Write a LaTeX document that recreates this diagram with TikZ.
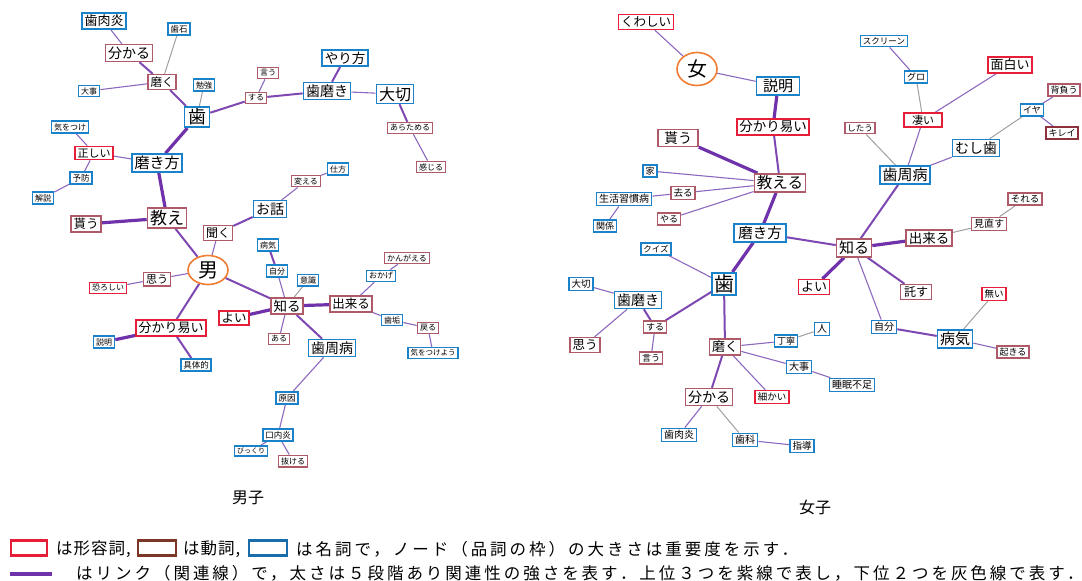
\documentclass[tikz,border=0pt]{standalone}
\usepackage{fontspec}
\setmainfont{Noto Sans CJK JP}
\newfontfamily\jpfont{Noto Sans CJK JP}
\usetikzlibrary{shapes.geometric,backgrounds}
\newcommand\jp[1]{\jpfont\fontsize{#1}{#1}\selectfont}
\definecolor{adjc}{RGB}{230,30,55}
\definecolor{verbc}{RGB}{175,90,105}
\definecolor{verbd}{RGB}{140,50,60}
\definecolor{nounc}{RGB}{25,130,200}
\definecolor{hubc}{RGB}{240,125,50}
\definecolor{pur}{RGB}{112,50,170}
\definecolor{purl}{RGB}{140,105,190}
\definecolor{legv}{RGB}{125,55,40}
\definecolor{legn}{RGB}{25,110,170}
\begin{document}
\begin{tikzpicture}[x=1pt,y=-1pt,
  wbox/.style={draw, fill=white, line width=1.6pt, inner xsep=2.5pt, inner ysep=2pt},
  adj/.style={wbox, draw=adjc},
  verb/.style={wbox, draw=verbc},
  noun/.style={wbox, draw=nounc},
  hub/.style={ellipse, draw=hubc, line width=1.6pt, fill=white, inner sep=0pt, minimum width=40pt, minimum height=29pt, font=\jp{20}},
  ea/.style={draw=purl, line width=1.1pt},
  eb/.style={draw=pur!90, line width=2pt},
  ec/.style={draw=pur, line width=3.2pt},
  eg/.style={draw=gray!75, line width=1pt},
  legtext/.style={anchor=west, inner sep=0pt, font=\jp{16.5}}]
\useasboundingbox (0,0) rectangle (1082,581);

% ---------------- male ----------------
\node[noun,font=\jp{13}] (m-shinikuen) at (104,21) {歯肉炎};
\node[noun,font=\jp{8.5}] (m-shiseki) at (179,29) {歯石};
\node[verb,font=\jp{14}] (m-wakaru) at (129,53) {分かる};
\node[verb,font=\jp{11.5}] (m-migaku) at (162,82) {磨く};
\node[noun,font=\jp{8}] (m-daiji) at (89,91) {大事};
\node[noun,font=\jp{8}] (m-benkyo) at (204,85) {勉強};
\node[noun,font=\jp{18},inner xsep=3.5pt] (m-ha) at (197,117) {歯};
\node[verb,font=\jp{8}] (m-iu) at (268,73) {言う};
\node[verb,font=\jp{8}] (m-suru) at (256,98) {する};
\node[noun,font=\jp{14}] (m-hamigaki) at (327,91) {歯磨き};
\node[noun,font=\jp{13.5}] (m-yarikata) at (345,58) {やり方};
\node[noun,font=\jp{16}] (m-taisetsu) at (395,94) {大切};
\node[verb,font=\jp{8}] (m-aratameru) at (410,128) {あらためる};
\node[verb,font=\jp{8}] (m-kanjiru) at (431,167) {感じる};
\node[noun,font=\jp{8}] (m-shikata) at (338,169) {仕方};
\node[verb,font=\jp{8}] (m-kaeru) at (306,181) {変える};
\node[noun,font=\jp{14}] (m-ohanashi) at (270,209) {お話};
\node[verb,font=\jp{12}] (m-kiku) at (218,233) {聞く};
\node[hub] (m-otoko) at (208,270) {男};
\node[noun,font=\jp{8}] (m-byoki) at (268,245) {病気};
\node[noun,font=\jp{8}] (m-jibun) at (277,271) {自分};
\node[noun,font=\jp{8}] (m-ishiki) at (308,280) {意識};
\node[verb,font=\jp{8}] (m-kangaeru) at (407,258) {かんがえる};
\node[noun,font=\jp{8}] (m-okage) at (381,276) {おかげ};
\node[verb,font=\jp{13.5}] (m-shiru) at (287,306) {知る};
\node[verb,font=\jp{12.5}] (m-dekiru) at (351,304) {出来る};
\node[adj,font=\jp{12.5}] (m-yoi) at (234,318) {よい};
\node[verb,font=\jp{8}] (m-aru) at (279,339) {ある};
\node[noun,font=\jp{14}] (m-shishubyo) at (332,348) {歯周病};
\node[noun,font=\jp{8}] (m-shiko) at (392,320) {歯垢};
\node[verb,font=\jp{8}] (m-modoru) at (428,328) {戻る};
\node[noun,font=\jp{7.5}] (m-kiwotsukeyo) at (433,353) {気をつけよう};
\node[adj,font=\jp{13}] (m-wakariyasui) at (171,328) {分かり易い};
\node[noun,font=\jp{8}] (m-setsumei) at (104,342) {説明};
\node[noun,font=\jp{8.5}] (m-gutaiteki) at (196,365) {具体的};
\node[noun,font=\jp{8.5}] (m-genin) at (287,398) {原因};
\node[noun,font=\jp{8.5}] (m-konaien) at (278,435) {口内炎};
\node[noun,font=\jp{7}] (m-bikkuri) at (251,451) {びっくり};
\node[verb,font=\jp{8}] (m-nukeru) at (293,461) {抜ける};
\node[verb,font=\jp{11}] (m-omou) at (157,279) {思う};
\node[adj,font=\jp{8}] (m-osoroshii) at (108,288) {恐ろしい};
\node[verb,font=\jp{17}] (m-oshie) at (167,218) {教え};
\node[verb,font=\jp{12.5}] (m-morau) at (86,224) {貰う};
\node[noun,font=\jp{15}] (m-migakikata) at (157,163) {磨き方};
\node[adj,font=\jp{11}] (m-tadashii) at (94,153) {正しい};
\node[noun,font=\jp{8.5}] (m-yobo) at (81,178) {予防};
\node[noun,font=\jp{8}] (m-kaisetsu) at (43,198) {解説};
\node[noun,font=\jp{8}] (m-kiwotsuke) at (70,127) {気をつけ};

% ---------------- female ----------------
\node[adj,font=\jp{12.5}] (f-kuwashii) at (646,22) {くわしい};
\node[hub,minimum height=33pt] (f-onna) at (697,69) {女};
\node[noun,font=\jp{15},minimum width=43pt] (f-setsumei) at (778,86) {説明};
\node[adj,font=\jp{13.5}] (f-wakariyasui) at (773,127) {分かり易い};
\node[verb,font=\jp{14},minimum width=40pt] (f-morau) at (678,138) {貰う};
\node[verb,font=\jp{15.5}] (f-oshieru) at (780,183) {教える};
\node[noun,font=\jp{9}] (f-ie) at (650,171) {家};
\node[verb,font=\jp{9.5}] (f-saru) at (683,193) {去る};
\node[noun,font=\jp{10}] (f-seikatsu) at (624,199) {生活習慣病};
\node[verb,font=\jp{9}] (f-yaru) at (669,219) {やる};
\node[noun,font=\jp{9}] (f-kankei) at (605,226) {関係};
\node[noun,font=\jp{14.5},minimum width=52pt] (f-migakikata) at (760,233) {磨き方};
\node[noun,font=\jp{8.5}] (f-quiz) at (656,249) {クイズ};
\node[noun,font=\jp{20},inner xsep=2pt] (f-ha) at (724,284) {歯};
\node[noun,font=\jp{9.5}] (f-taisetsu) at (581,284) {大切};
\node[noun,font=\jp{14}] (f-hamigaki) at (638,300) {歯磨き};
\node[verb,font=\jp{9}] (f-suru) at (655,327) {する};
\node[verb,font=\jp{9}] (f-iu) at (651,358) {言う};
\node[verb,font=\jp{12.5}] (f-omou) at (585,345) {思う};
\node[verb,font=\jp{13}] (f-migaku) at (725,347) {磨く};
\node[noun,font=\jp{9}] (f-teinei) at (786,341) {丁寧};
\node[noun,font=\jp{10}] (f-hito) at (822,329) {人};
\node[noun,font=\jp{10}] (f-daiji) at (799,367) {大事};
\node[noun,font=\jp{10}] (f-suimin) at (852,385) {睡眠不足};
\node[adj,font=\jp{9.5}] (f-komakai) at (772,397) {細かい};
\node[verb,font=\jp{14}] (f-wakaru) at (709,397) {分かる};
\node[noun,font=\jp{10}] (f-shinikuen) at (679,435) {歯肉炎};
\node[noun,font=\jp{10}] (f-shika) at (745,440) {歯科};
\node[noun,font=\jp{9.5}] (f-shido) at (802,446) {指導};
\node[verb,font=\jp{15}] (f-shiru) at (854,248) {知る};
\node[verb,font=\jp{13.5}] (f-dekiru) at (929,238) {出来る};
\node[verb,font=\jp{10}] (f-minaosu) at (989,224) {見直す};
\node[verb,font=\jp{9.5}] (f-soreru) at (1025,199) {それる};
\node[adj,font=\jp{13}] (f-yoi) at (814,287) {よい};
\node[verb,font=\jp{12},minimum width=31pt] (f-takusu) at (916,292) {託す};
\node[noun,font=\jp{10}] (f-jibun) at (884,327) {自分};
\node[noun,font=\jp{15}] (f-byoki) at (955,339) {病気};
\node[adj,font=\jp{9.5}] (f-nai) at (994,294) {無い};
\node[verb,font=\jp{9}] (f-okiru) at (1013,352) {起きる};
\node[noun,font=\jp{15}] (f-shishubyo) at (905,175) {歯周病};
\node[verb,font=\jp{8.5}] (f-shitau) at (860,128) {したう};
\node[adj,font=\jp{11},minimum width=38pt] (f-sugoi) at (923,120) {凄い};
\node[noun,font=\jp{9}] (f-guro) at (916,77) {グロ};
\node[noun,font=\jp{8.5}] (f-screen) at (884,41) {スクリーン};
\node[adj,font=\jp{13}] (f-omoshiroi) at (1010,65) {面白い};
\node[noun,font=\jp{14}] (f-mushiba) at (976,148) {むし歯};
\node[noun,font=\jp{9}] (f-iya) at (1032,110) {イヤ};
\node[verb,font=\jp{9}] (f-seou) at (1064,90) {背負う};
\node[verb,draw=verbd,font=\jp{9}] (f-kirei) at (1062,133) {キレイ};

% ---------------- edges ----------------
\begin{pgfonlayer}{background}
\draw[ea] (m-shinikuen) -- (m-wakaru);
\draw[eb] (m-wakaru) -- (m-migaku);
\draw[eg] (m-shiseki) -- (m-migaku);
\draw[ea] (m-daiji) -- (m-migaku);
\draw[eb] (m-migaku) -- (m-ha);
\draw[eg] (m-benkyo) -- (m-ha);
\draw[eb] (m-ha) -- (m-suru);
\draw[ea] (m-suru) -- (m-iu);
\draw[eb] (m-suru) -- (m-hamigaki);
\draw[eb] (m-hamigaki) -- (m-yarikata);
\draw[ea] (m-hamigaki) -- (m-taisetsu);
\draw[eb] (m-taisetsu) -- (m-aratameru);
\draw[ea] (m-aratameru) -- (m-kanjiru);
\draw[ec] (m-ha) -- (m-migakikata);
\draw[ea] (m-migakikata) -- (m-tadashii);
\draw[ea] (m-tadashii) -- (m-yobo);
\draw[ea] (m-yobo) -- (m-kaisetsu);
\draw[ea] (m-kiwotsuke) -- (m-tadashii);
\draw[ec] (m-migakikata) -- (m-oshie);
\draw[ec] (m-oshie) -- (m-morau);
\draw[eb] (m-oshie) -- (m-otoko);
\draw[ea] (m-otoko) -- (m-kiku);
\draw[eb] (m-kiku) -- (m-ohanashi);
\draw[ea] (m-ohanashi) -- (m-kaeru);
\draw[ea] (m-kaeru) -- (m-shikata);
\draw[ea] (m-otoko) -- (m-omou);
\draw[ea] (m-omou) -- (m-osoroshii);
\draw[eb] (m-otoko) -- (m-wakariyasui);
\draw[ec] (m-wakariyasui) -- (m-setsumei);
\draw[eb] (m-wakariyasui) -- (m-gutaiteki);
\draw[eb] (m-otoko) -- (m-shiru);
\draw[eb] (m-byoki) -- (m-jibun);
\draw[ea] (m-jibun) -- (m-shiru);
\draw[eg] (m-ishiki) -- (m-shiru);
\draw[ec] (m-shiru) -- (m-dekiru);
\draw[ea] (m-dekiru) -- (m-okage);
\draw[ea] (m-okage) -- (m-kangaeru);
\draw[ea] (m-dekiru) -- (m-shiko);
\draw[ea] (m-shiko) -- (m-modoru);
\draw[ea] (m-modoru) -- (m-kiwotsukeyo);
\draw[ec] (m-shiru) -- (m-yoi);
\draw[ea] (m-shiru) -- (m-aru);
\draw[eb] (m-shiru) -- (m-shishubyo);
\draw[ea] (m-shishubyo) -- (m-genin);
\draw[ea] (m-genin) -- (m-konaien);
\draw[ea] (m-konaien) -- (m-bikkuri);
\draw[ea] (m-konaien) -- (m-nukeru);
% female
\draw[ea] (f-kuwashii) -- (f-onna);
\draw[ea] (f-onna) -- (f-setsumei);
\draw[ec] (f-setsumei) -- (f-wakariyasui);
\draw[eb] (f-wakariyasui) -- (f-oshieru);
\draw[ec] (f-morau) -- (f-oshieru);
\draw[ea] (f-ie) -- (f-oshieru);
\draw[ea] (f-saru) -- (f-oshieru);
\draw[ea] (f-seikatsu) -- (f-saru);
\draw[ea] (f-seikatsu) -- (f-kankei);
\draw[ea] (f-yaru) -- (f-oshieru);
\draw[ec] (f-oshieru) -- (f-migakikata);
\draw[ec] (f-migakikata) -- (f-ha);
\draw[eb] (f-migakikata) -- (f-shiru);
\draw[ea] (f-quiz) -- (f-ha);
\draw[eb] (f-ha) -- (f-suru);
\draw[eb] (f-ha) -- (f-migaku);
\draw[ea] (f-taisetsu) -- (f-hamigaki);
\draw[eb] (f-hamigaki) -- (f-suru);
\draw[ea] (f-hamigaki) -- (f-omou);
\draw[ea] (f-suru) -- (f-iu);
\draw[ea] (f-migaku) -- (f-teinei);
\draw[eg] (f-teinei) -- (f-hito);
\draw[ea] (f-migaku) -- (f-daiji);
\draw[ea] (f-daiji) -- (f-suimin);
\draw[ea] (f-migaku) -- (f-komakai);
\draw[eb] (f-migaku) -- (f-wakaru);
\draw[ea] (f-wakaru) -- (f-shinikuen);
\draw[eg] (f-wakaru) -- (f-shika);
\draw[ea] (f-shika) -- (f-shido);
\draw[eb] (f-shiru) -- (f-shishubyo);
\draw[ec] (f-shiru) -- (f-dekiru);
\draw[eg] (f-dekiru) -- (f-minaosu);
\draw[eg] (f-minaosu) -- (f-soreru);
\draw[ec] (f-shiru) -- (f-yoi);
\draw[eb] (f-shiru) -- (f-takusu);
\draw[ea] (f-shiru) -- (f-jibun);
\draw[eb] (f-jibun) -- (f-byoki);
\draw[eg] (f-byoki) -- (f-nai);
\draw[ea] (f-byoki) -- (f-okiru);
\draw[eg] (f-shishubyo) -- (f-shitau);
\draw[ea] (f-shishubyo) -- (f-sugoi);
\draw[eg] (f-sugoi) -- (f-guro);
\draw[ea] (f-guro) -- (f-screen);
\draw[ea] (f-sugoi) -- (f-omoshiroi);
\draw[ea] (f-shishubyo) -- (f-mushiba);
\draw[eg] (f-mushiba) -- (f-iya);
\draw[ea] (f-iya) -- (f-seou);
\draw[ea] (f-iya) -- (f-kirei);
\end{pgfonlayer}

% ---------------- captions ----------------
\node[font=\jp{16}] (cap-m) at (248,498) {男子};
\node[font=\jp{16}] (cap-f) at (815,507) {女子};

% ---------------- legend ----------------
\node[draw=adjc, line width=2.5pt, minimum width=36pt, minimum height=15pt, inner sep=0pt] (lg-a) at (29,548) {};
\node[draw=legv, line width=2.5pt, minimum width=38pt, minimum height=15pt, inner sep=0pt] (lg-v) at (157,548) {};
\node[draw=legn, line width=2.5pt, minimum width=38pt, minimum height=15pt, inner sep=0pt] (lg-n) at (268,548) {};
\node[legtext] (lg-ta) at (56,549) {\addfontfeature{LetterSpace=6}は形容詞,};
\node[legtext] (lg-tv) at (183,549) {\addfontfeature{LetterSpace=6}は動詞,};
\node[legtext] (lg-tn) at (296,549) {\addfontfeature{LetterSpace=18}は名詞で，ノード（品詞の枠）の大きさは重要度を示す．};
\coordinate (lg-l1) at (10,574);
\coordinate (lg-l2) at (52,574);
\draw[draw=pur, line width=3.5pt] (lg-l1) -- (lg-l2);
\node[legtext] (lg-tl) at (76,573) {\addfontfeature{LetterSpace=18}はリンク（関連線）で，太さは５段階あり関連性の強さを表す．上位３つを紫線で表し，下位２つを灰色線で表す．};
\end{tikzpicture}
\end{document}
